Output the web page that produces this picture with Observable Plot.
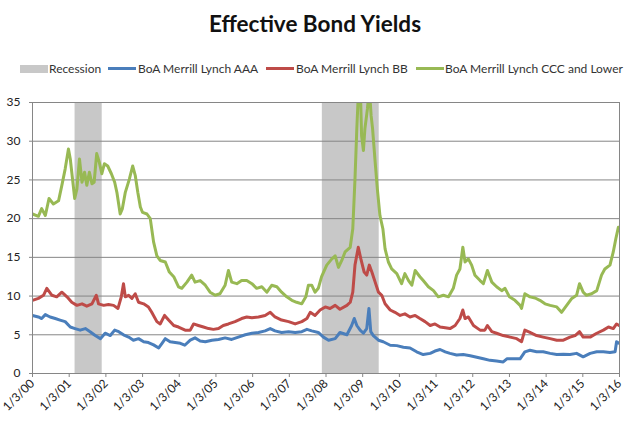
<!DOCTYPE html>
<html>
<head>
<meta charset="utf-8">
<script src="https://cdn.jsdelivr.net/npm/d3@7"></script>
<script src="https://cdn.jsdelivr.net/npm/@observablehq/plot@0.6"></script>
<style>
  html, body { margin: 0; padding: 0; background: #fff; }
  #wrap { width: 630px; height: 425px; position: relative; font-family: Lato, "Open Sans", sans-serif; }
  #title { height: 46px; line-height: 48px; text-align: center; font-weight: bold; font-size: 22.5px; color: #111; }
  #legend { height: 39px; position: relative; font-size: 12px; color: #333; }
  .sw { position: absolute; }
  .lt { position: absolute; top: 15px; line-height: 16px; white-space: nowrap; }
</style>
</head>
<body>
<div id="wrap">
  <div id="title">Effective Bond Yields</div>
  <div id="legend"></div>
  <div id="chart"></div>
</div>
<script>
// ---- data (decimal years, yield %) ----
const aaa = [
[2000.00,7.5],[2000.16,7.3],[2000.25,7.1],[2000.35,7.6],[2000.48,7.3],[2000.62,7.1],[2000.75,6.9],[2000.89,6.7],
[2001.03,6.0],[2001.16,5.8],[2001.30,5.6],[2001.44,5.8],[2001.57,5.4],[2001.71,4.9],[2001.85,4.5],[2001.98,5.2],
[2002.12,4.9],[2002.24,5.6],[2002.35,5.4],[2002.48,5.0],[2002.62,4.7],[2002.75,4.3],[2002.89,4.5],[2003.03,4.1],
[2003.16,4.0],[2003.30,3.7],[2003.44,3.3],[2003.53,3.9],[2003.62,4.5],[2003.75,4.1],[2003.89,4.0],[2004.03,3.9],
[2004.15,3.65],[2004.30,4.3],[2004.43,4.6],[2004.57,4.2],[2004.71,4.1],[2004.89,4.3],[2005.07,4.4],[2005.25,4.6],
[2005.43,4.4],[2005.61,4.7],[2005.80,5.0],[2005.98,5.2],[2006.16,5.3],[2006.34,5.5],[2006.48,5.8],[2006.61,5.5],
[2006.79,5.3],[2006.98,5.4],[2007.16,5.3],[2007.34,5.4],[2007.48,5.7],[2007.61,5.5],[2007.79,5.3],[2007.93,4.7],
[2008.07,4.3],[2008.25,4.5],[2008.38,5.3],[2008.57,5.0],[2008.70,6.2],[2008.77,7.1],[2008.84,6.2],[2008.93,5.6],
[2009.02,5.2],[2009.11,5.8],[2009.17,8.4],[2009.22,5.4],[2009.29,4.9],[2009.43,4.3],[2009.56,4.1],[2009.75,3.65],
[2009.93,3.6],[2010.11,3.4],[2010.29,3.3],[2010.47,2.8],[2010.65,2.45],[2010.84,2.6],[2010.97,2.9],[2011.11,3.1],
[2011.25,2.8],[2011.38,2.6],[2011.56,2.4],[2011.74,2.45],[2011.93,2.3],[2012.11,2.1],[2012.29,1.9],[2012.47,1.7],
[2012.65,1.6],[2012.83,1.5],[2012.93,1.9],[2013.11,1.9],[2013.29,1.9],[2013.42,2.8],[2013.56,3.0],[2013.74,2.8],
[2013.92,2.8],[2014.11,2.6],[2014.29,2.45],[2014.47,2.5],[2014.65,2.45],[2014.83,2.6],[2015.01,2.15],[2015.20,2.6],
[2015.38,2.8],[2015.56,2.8],[2015.74,2.7],[2015.88,2.8],[2015.92,4.1],[2015.99,3.9]
];
const bb = [
[2000.00,9.45],[2000.16,9.7],[2000.30,10.1],[2000.39,11.0],[2000.53,10.1],[2000.66,9.9],[2000.80,10.5],[2000.94,9.9],
[2001.07,9.2],[2001.21,8.8],[2001.35,9.0],[2001.48,8.7],[2001.62,9.0],[2001.74,10.1],[2001.80,9.0],[2001.94,8.8],
[2002.07,8.9],[2002.21,8.8],[2002.33,8.4],[2002.42,9.9],[2002.48,11.6],[2002.53,9.9],[2002.62,10.1],[2002.71,9.7],
[2002.80,10.3],[2002.89,9.2],[2003.03,9.0],[2003.16,8.6],[2003.25,7.9],[2003.39,6.7],[2003.48,6.4],[2003.60,7.5],
[2003.71,6.9],[2003.85,6.2],[2003.98,6.0],[2004.16,5.6],[2004.30,5.6],[2004.39,6.4],[2004.52,6.2],[2004.66,6.0],
[2004.80,5.8],[2004.93,5.7],[2005.07,5.8],[2005.20,6.2],[2005.34,6.4],[2005.52,6.7],[2005.70,7.1],[2005.84,7.3],
[2005.98,7.2],[2006.16,7.3],[2006.34,7.5],[2006.48,7.9],[2006.61,7.3],[2006.79,6.9],[2006.98,6.7],[2007.16,6.4],
[2007.34,6.7],[2007.48,7.1],[2007.57,7.9],[2007.70,7.5],[2007.84,8.2],[2007.98,8.6],[2008.11,8.4],[2008.25,8.8],
[2008.38,8.3],[2008.57,8.8],[2008.66,9.2],[2008.73,10.5],[2008.79,14.0],[2008.88,16.3],[2008.95,14.8],[2009.04,13.1],
[2009.11,12.7],[2009.18,14.0],[2009.25,13.1],[2009.34,11.8],[2009.43,10.5],[2009.52,10.1],[2009.61,9.0],[2009.75,8.2],
[2009.88,7.9],[2010.02,7.5],[2010.15,7.7],[2010.29,7.3],[2010.43,7.5],[2010.56,7.1],[2010.70,6.7],[2010.84,6.2],
[2010.97,6.4],[2011.11,6.0],[2011.25,5.9],[2011.38,5.8],[2011.52,6.2],[2011.65,7.1],[2011.73,8.2],[2011.79,7.1],
[2011.88,7.3],[2012.02,6.2],[2012.20,5.6],[2012.33,5.6],[2012.40,6.2],[2012.52,5.4],[2012.65,5.2],[2012.83,4.9],
[2013.02,4.7],[2013.20,4.5],[2013.33,4.1],[2013.42,5.6],[2013.56,5.3],[2013.74,4.9],[2013.92,4.7],[2014.11,4.5],
[2014.29,4.3],[2014.47,4.3],[2014.65,4.7],[2014.79,4.9],[2014.91,5.4],[2015.01,4.7],[2015.20,4.7],[2015.38,5.2],
[2015.56,5.6],[2015.70,6.0],[2015.83,5.8],[2015.92,6.4],[2015.99,6.2]
];
const ccc = [
[2000.00,20.6],[2000.16,20.3],[2000.25,21.3],[2000.35,20.4],[2000.45,22.6],[2000.57,21.9],[2000.71,22.3],[2000.80,24.3],
[2000.89,26.4],[2000.98,29.0],[2001.03,27.7],[2001.07,26.0],[2001.15,22.6],[2001.21,23.8],[2001.28,27.7],[2001.35,24.7],
[2001.42,26.0],[2001.48,24.3],[2001.55,26.0],[2001.62,24.5],[2001.68,24.7],[2001.75,28.4],[2001.82,27.3],[2001.89,25.8],
[2001.96,27.1],[2002.05,26.8],[2002.15,25.8],[2002.24,24.7],[2002.30,23.4],[2002.39,20.6],[2002.45,21.3],[2002.53,23.4],
[2002.64,25.1],[2002.73,26.8],[2002.80,25.6],[2002.87,23.4],[2002.94,21.5],[2003.00,20.8],[2003.12,20.6],[2003.21,20.0],
[2003.30,17.0],[2003.39,15.2],[2003.48,14.6],[2003.62,14.4],[2003.73,13.1],[2003.85,12.5],[2003.98,11.2],[2004.07,11.0],
[2004.21,11.8],[2004.34,12.7],[2004.43,11.8],[2004.57,12.0],[2004.71,11.4],[2004.84,10.5],[2004.98,10.1],[2005.11,10.3],
[2005.25,11.4],[2005.34,13.3],[2005.43,11.8],[2005.57,11.6],[2005.70,12.0],[2005.84,12.0],[2005.98,11.6],[2006.11,11.0],
[2006.25,11.2],[2006.39,10.5],[2006.52,11.4],[2006.66,11.2],[2006.79,10.5],[2006.93,9.9],[2007.07,9.45],[2007.20,9.2],
[2007.34,9.0],[2007.45,9.9],[2007.52,11.4],[2007.61,11.4],[2007.70,10.5],[2007.79,11.0],[2007.88,12.5],[2008.02,14.0],
[2008.16,14.8],[2008.25,15.2],[2008.34,13.7],[2008.43,14.6],[2008.52,15.7],[2008.66,16.3],[2008.73,18.7],[2008.79,25.1],
[2008.84,31.6],[2008.88,36.0],[2008.93,38.0],[2008.97,30.7],[2009.02,28.8],[2009.06,31.6],[2009.13,34.2],[2009.18,37.0],
[2009.23,33.3],[2009.27,31.6],[2009.34,27.3],[2009.40,23.8],[2009.47,20.4],[2009.55,18.7],[2009.61,16.1],[2009.70,14.4],
[2009.79,13.5],[2009.93,12.9],[2010.06,11.6],[2010.15,12.9],[2010.25,12.0],[2010.34,11.4],[2010.43,13.3],[2010.56,12.5],
[2010.65,12.0],[2010.79,11.2],[2010.93,10.7],[2011.06,9.9],[2011.20,10.1],[2011.34,9.9],[2011.47,11.0],[2011.56,12.7],
[2011.65,13.5],[2011.73,16.3],[2011.79,14.4],[2011.88,14.8],[2011.97,14.0],[2012.06,12.7],[2012.20,12.0],[2012.29,11.6],
[2012.40,13.3],[2012.52,11.8],[2012.65,11.2],[2012.79,10.7],[2012.88,11.0],[2013.00,9.9],[2013.15,9.45],[2013.29,8.8],
[2013.33,8.4],[2013.42,10.3],[2013.56,9.9],[2013.70,9.75],[2013.83,9.45],[2013.97,9.0],[2014.11,8.8],[2014.29,8.6],
[2014.42,7.9],[2014.56,8.8],[2014.70,9.7],[2014.83,10.1],[2014.91,11.6],[2015.01,10.5],[2015.10,10.1],[2015.24,10.3],
[2015.38,10.7],[2015.51,12.7],[2015.60,13.5],[2015.74,14.0],[2015.83,15.7],[2015.90,17.4],[2015.97,18.9],[2015.99,18.7]
];
const recessionStart = [2001.16, 2007.90];
const recessionEnd   = [2001.90, 2009.45];
const yTicks = [0, 5, 10, 15, 20, 25, 30, 35];
const xTicks = [2000,2001,2002,2003,2004,2005,2006,2007,2008,2009,2010,2011,2012,2013,2014,2015,2016];
const xTickLabels = ["1/3/00","1/3/01","1/3/02","1/3/03","1/3/04","1/3/05","1/3/06","1/3/07","1/3/08","1/3/09","1/3/10","1/3/11","1/3/12","1/3/13","1/3/14","1/3/15","1/3/16"];
const seriesNames = ["BoA Merrill Lynch AAA", "BoA Merrill Lynch BB", "BoA Merrill Lynch CCC and Lower"];
const seriesColors = ["#4a7ebb", "#be4b48", "#98b954"];
const recessionColor = "#c8c8c8";

// ---- legend ----
const legend = document.getElementById("legend");
const legendItems = [
  {type: "rect", color: recessionColor, label: "Recession", sx: 20, tx: 49},
  {type: "line", color: seriesColors[0], label: seriesNames[0], sx: 108, tx: 138},
  {type: "line", color: seriesColors[1], label: seriesNames[1], sx: 266, tx: 296},
  {type: "line", color: seriesColors[2], label: seriesNames[2], sx: 416, tx: 445}
];
for (const it of legendItems) {
  const s = document.createElement("div");
  s.className = "sw";
  s.style.left = it.sx + "px";
  s.style.width = "28px";
  s.style.background = it.color;
  if (it.type === "rect") { s.style.top = "19px"; s.style.height = "8px"; }
  else { s.style.top = "21px"; s.style.height = "3px"; }
  legend.appendChild(s);
  const t = document.createElement("div");
  t.className = "lt";
  t.style.left = it.tx + "px";
  t.textContent = it.label;
  legend.appendChild(t);
}

// ---- chart ----
const recessions = recessionStart.map((s, i) => ({s, e: recessionEnd[i]}));
const toRows = arr => arr.map(([t, v]) => ({t, v}));
const labelOf = new Map(xTicks.map((x, i) => [x, xTickLabels[i]]));
const yMax = d3.max(yTicks);

const chart = Plot.plot({
  width: 630,
  height: 340,
  marginLeft: 32,
  marginRight: 11,
  marginTop: 17,
  marginBottom: 52,
  style: {fontFamily: "Lato, 'Open Sans', sans-serif", fontSize: "12px", color: "#222", background: "#fff"},
  x: {domain: [xTicks[0], xTicks[xTicks.length - 1]]},
  y: {domain: [0, yMax]},
  marks: [
    Plot.rect(recessions, {x1: "s", x2: "e", y1: () => 0, y2: () => yMax, fill: recessionColor}),
    Plot.gridY(yTicks, {stroke: "#868686", strokeOpacity: 1, strokeWidth: 1}),
    Plot.line(toRows(aaa), {x: "t", y: "v", stroke: seriesColors[0], strokeWidth: 3, clip: true}),
    Plot.line(toRows(bb), {x: "t", y: "v", stroke: seriesColors[1], strokeWidth: 3, clip: true}),
    Plot.line(toRows(ccc), {x: "t", y: "v", stroke: seriesColors[2], strokeWidth: 3, clip: true}),
    Plot.frame({stroke: "#868686", strokeWidth: 1}),
    Plot.axisY(yTicks, {tickSize: 3, tickPadding: 9, stroke: "#868686", label: null, fill: "#222", fontSize: 12}),
    Plot.axisX(xTicks, {tickSize: 4, tickPadding: 4, tickRotate: -45, stroke: "#868686", label: null, fill: "#222", fontSize: 12,
      tickFormat: d => labelOf.get(d)})
  ]
});
document.getElementById("chart").appendChild(chart);
</script>
</body>
</html>
